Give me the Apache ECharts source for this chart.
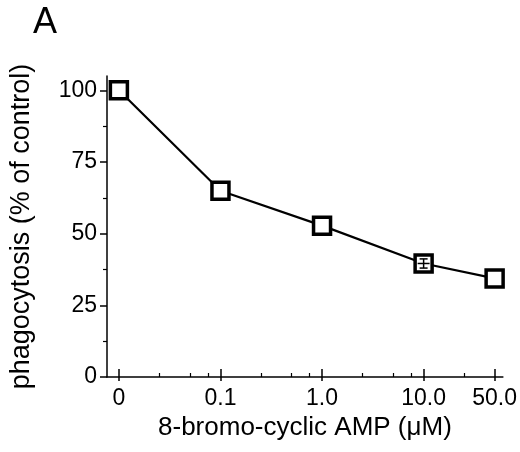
<!DOCTYPE html>
<html>
<head>
<meta charset="utf-8">
<script src="https://cdn.jsdelivr.net/npm/echarts@6/dist/echarts.min.js"></script>
<style>
  html, body { margin: 0; padding: 0; background: #fff; }
  #chart { width: 520px; height: 452px; }
</style>
</head>
<body>
<div id="chart"></div>
<script>
// concentrations of 8-bromo-cyclic AMP (uM) and tick labels
var concValues = [0, 0.1, 1, 10, 50];
var concLabels = ['0', '0.1', '1.0', '10.0', '50.0'];
// phagocytosis, % of control
var phagocytosis = [100, 65, 52.8, 39.6, 34.4];
var errors = [0, 0, 0, 1.6, 0];
var minorConc = [0.025, 0.05, 0.075, 0.25, 0.5, 0.75, 2.5, 5, 7.5, 25];
var yTicks = [0, 25, 50, 75, 100];
var yMinorTicks = [12.5, 37.5, 62.5, 87.5];

// log axis with a break: "0" sits one decade below 0.1
function pos(c) {
    return c === 0 ? 0 : Math.log10(c) + 2;
}

var majorPos = concValues.map(pos);
var minorPos = minorConc.map(pos);

var lineData = [];
var errData = [];
for (var i = 0; i < concValues.length; i++) {
    lineData.push([majorPos[i], phagocytosis[i]]);
    errData.push([majorPos[i], phagocytosis[i], errors[i]]);
}

var font = 'Liberation Sans, Arial, sans-serif';
var xMin = -0.117, xMax = 3.78;

var myChart = echarts.init(document.getElementById('chart'));
var option = {
    animation: false,
    title: {
        text: 'A',
        left: 28,
        top: 0,
        textStyle: { fontFamily: font, fontSize: 36, fontWeight: 'normal', color: '#000' }
    },
    grid: { left: 107, right: 13, top: 76, bottom: 75 },
    xAxis: [
        {
            type: 'value', position: 'bottom', min: xMin, max: xMax,
            name: '8-bromo-cyclic AMP (\u03bcM)',
            nameLocation: 'middle',
            nameGap: 33,
            nameTextStyle: { fontFamily: font, fontSize: 26, color: '#000' },
            axisLine: { onZero: false, lineStyle: { color: '#000', width: 1.5 } },
            axisTick: { customValues: majorPos, length: 4, lineStyle: { color: '#000', width: 1.5 } },
            axisLabel: {
                customValues: majorPos,
                margin: 10,
                fontFamily: font, fontSize: 23, color: '#000',
                formatter: function (v) {
                    for (var k = 0; k < majorPos.length; k++) {
                        if (Math.abs(majorPos[k] - v) < 1e-6) return concLabels[k];
                    }
                    return '';
                }
            },
            splitLine: { show: false }
        },
        {
            // upper half of the major ticks
            type: 'value', position: 'bottom', min: xMin, max: xMax,
            axisLine: { show: false, onZero: false },
            axisTick: { customValues: majorPos, inside: true, length: 8, lineStyle: { color: '#000', width: 1.5 } },
            axisLabel: { show: false },
            splitLine: { show: false }
        },
        {
            // minor ticks
            type: 'value', position: 'bottom', min: xMin, max: xMax,
            axisLine: { show: false, onZero: false },
            axisTick: { customValues: minorPos, inside: true, length: 4, lineStyle: { color: '#000', width: 1.2 } },
            axisLabel: { show: false },
            splitLine: { show: false }
        }
    ],
    yAxis: [
        {
            type: 'value', position: 'left', min: 0, max: 105,
            name: 'phagocytosis (% of control)',
            nameLocation: 'middle',
            nameGap: 72,
            nameTextStyle: { fontFamily: font, fontSize: 27, color: '#000' },
            axisLine: { show: true, onZero: false, lineStyle: { color: '#000', width: 1.5 } },
            axisTick: { show: true, customValues: yTicks, length: 7, lineStyle: { color: '#000', width: 1.5 } },
            axisLabel: { customValues: yTicks, margin: 10, fontFamily: font, fontSize: 23, color: '#000' },
            splitLine: { show: false }
        },
        {
            type: 'value', position: 'left', min: 0, max: 105,
            axisLine: { show: false, onZero: false },
            axisTick: { show: true, customValues: yMinorTicks, length: 4, lineStyle: { color: '#000', width: 1.2 } },
            axisLabel: { show: false },
            splitLine: { show: false }
        }
    ],
    series: [
        {
            type: 'line',
            data: lineData,
            xAxisIndex: 0,
            yAxisIndex: 0,
            lineStyle: { color: '#000', width: 2.2 },
            symbol: 'rect',
            symbolSize: 17,
            itemStyle: { color: '#fff', borderColor: '#000', borderWidth: 3.5 },
            z: 2
        },
        {
            type: 'custom',
            data: errData,
            xAxisIndex: 0,
            yAxisIndex: 0,
            z: 3,
            renderItem: function (params, api) {
                var err = api.value(2);
                if (!err) return;
                var x = api.value(0), y = api.value(1);
                var mid = api.coord([x, y]);
                var top = api.coord([x, y + err]);
                var bot = api.coord([x, y - err]);
                var style = { stroke: '#000', lineWidth: 1.5 };
                return {
                    type: 'group',
                    children: [
                        { type: 'line', shape: { x1: top[0], y1: top[1], x2: bot[0], y2: bot[1] }, style: style },
                        { type: 'line', shape: { x1: mid[0] - 6, y1: mid[1], x2: mid[0] + 6, y2: mid[1] }, style: style },
                        { type: 'line', shape: { x1: top[0] - 4, y1: top[1], x2: top[0] + 4, y2: top[1] }, style: style },
                        { type: 'line', shape: { x1: bot[0] - 4, y1: bot[1], x2: bot[0] + 4, y2: bot[1] }, style: style }
                    ]
                };
            }
        }
    ]
};

myChart.setOption(option);
</script>
</body>
</html>
